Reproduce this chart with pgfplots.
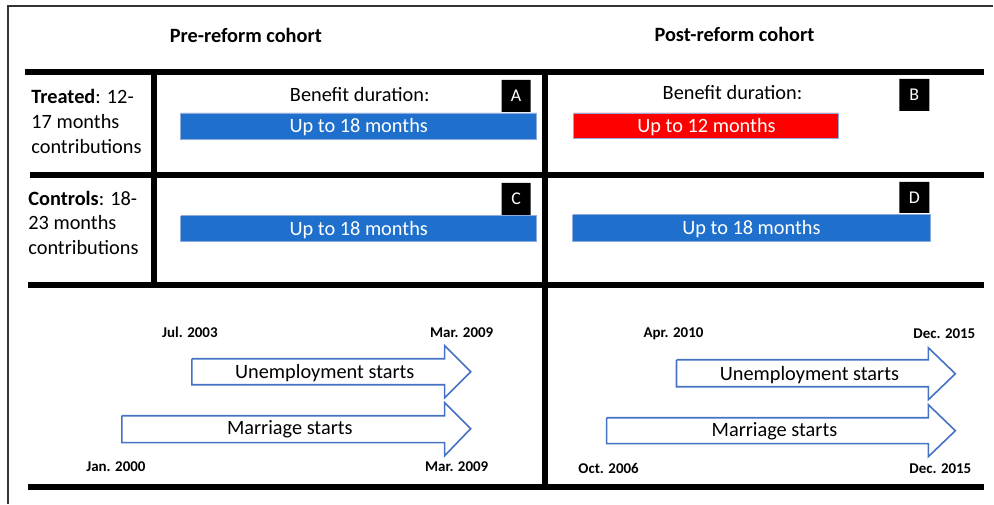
\documentclass[border=0pt]{standalone}
\usepackage{pgfplots}
\pgfplotsset{compat=1.18}
\usepackage{fontspec}
\setmainfont{Carlito}

\definecolor{barblue}{RGB}{30,112,204}
\definecolor{barred}{RGB}{255,0,0}
\definecolor{arrowblue}{RGB}{68,114,196}

\newcommand{\fs}[1]{\fontsize{#1}{#1}\selectfont}

\begin{document}
\begin{tikzpicture}
\begin{axis}[
    scale only axis,
    width=497bp, height=252bp,
    xmin=0, xmax=994, ymin=0, ymax=504,
    y dir=reverse,
    hide axis,
    clip=false,
    thickline/.style={black, line width=3bp, line cap=rect},
    bar/.style={fill=#1, draw=arrowblue!60, line width=0.4bp},
    tag/.style={fill=black, draw=none},
    arrow/.style={fill=white, draw=arrowblue, line width=0.8bp},
]
% canvas and outer frame (top and left edges only)
\addplot[draw=none] coordinates {(0,0) (994,504)};
\addplot[black!80, line width=0.7bp] coordinates {(8,504) (8,6) (994,6)};

% grid lines
\addplot[thickline] coordinates {(28,72) (982,72)};
\addplot[thickline] coordinates {(33,175) (982,175)};
\addplot[thickline] coordinates {(31,285) (982,285)};
\addplot[thickline] coordinates {(31,487) (982,487)};
\addplot[thickline, line cap=butt] coordinates {(154,72) (154,285)};
\addplot[thickline, line cap=butt] coordinates {(545,72) (545,487)};

% benefit bars
\addplot[bar=barblue] coordinates {(181,113) (537,113) (537,139) (181,139) (181,113)};
\addplot[bar=barred] coordinates {(574,113) (839,113) (839,138) (574,138) (574,113)};
\addplot[bar=barblue] coordinates {(181,216) (537,216) (537,242) (181,242) (181,216)};
\addplot[bar=barblue] coordinates {(573,215) (931,215) (931,242) (573,242) (573,215)};

% panel tags
\addplot[tag] coordinates {(502,80) (531,80) (531,112) (502,112) (502,80)};
\addplot[tag] coordinates {(900,79) (930,79) (930,111) (900,111) (900,79)};
\addplot[tag] coordinates {(502,183) (531,183) (531,215) (502,215) (502,183)};
\addplot[tag] coordinates {(900,182) (930,182) (930,213) (900,213) (900,182)};

% timeline arrows
\addplot[arrow] coordinates {(192,359) (445,359) (445,346) (471,372) (445,398) (445,385) (192,385) (192,359)};
\addplot[arrow] coordinates {(122,416) (445,416) (445,403) (471,429) (445,456) (445,443) (122,443) (122,416)};
\addplot[arrow] coordinates {(677,360) (929,360) (929,348) (956,374) (929,400) (929,387) (677,387) (677,360)};
\addplot[arrow] coordinates {(607,418) (929,418) (929,405) (956,431) (929,457) (929,444) (607,444) (607,418)};

% headings
\node[font=\fs{10.2}\bfseries] at (axis cs:246,35) {Pre-reform cohort};
\node[font=\fs{10.2}\bfseries] at (axis cs:735,34) {Post-reform cohort};

% row labels
\node[font=\fs{10.2}, anchor=west, inner sep=0] at (axis cs:31,97) {\textbf{Treated}: 12-};
\node[font=\fs{10.2}, anchor=west, inner sep=0] at (axis cs:31,122) {17 months};
\node[font=\fs{10.2}, anchor=west, inner sep=0] at (axis cs:31,147) {contributions};
\node[font=\fs{10.2}, anchor=west, inner sep=0] at (axis cs:28,199) {\textbf{Controls}: 18-};
\node[font=\fs{10.2}, anchor=west, inner sep=0] at (axis cs:28,223) {23 months};
\node[font=\fs{10.2}, anchor=west, inner sep=0] at (axis cs:28,248) {contributions};

% bar texts
\node[font=\fs{10.2}] at (axis cs:360,95) {Benefit duration:};
\node[font=\fs{10.2}] at (axis cs:733,93) {Benefit duration:};
\node[font=\fs{10.2}, text=white] at (axis cs:359,127) {Up to 18 months};
\node[font=\fs{10.2}, text=white] at (axis cs:707,127) {Up to 12 months};
\node[font=\fs{10.2}, text=white] at (axis cs:359,230) {Up to 18 months};
\node[font=\fs{10.2}, text=white] at (axis cs:752,229) {Up to 18 months};

% tags
\node[font=\fs{9}, text=white] at (axis cs:516.5,96) {A};
\node[font=\fs{9}, text=white] at (axis cs:915,95) {B};
\node[font=\fs{9}, text=white] at (axis cs:516.5,199) {C};
\node[font=\fs{9}, text=white] at (axis cs:915,197.5) {D};

% arrow texts
\node[font=\fs{10.2}] at (axis cs:325,373) {Unemployment starts};
\node[font=\fs{10.2}] at (axis cs:290,430) {Marriage starts};
\node[font=\fs{10.2}] at (axis cs:810,375) {Unemployment starts};
\node[font=\fs{10.2}] at (axis cs:775,432) {Marriage starts};

% dates
\node[font=\fs{7.5}\bfseries] at (axis cs:190,333) {Jul. 2003};
\node[font=\fs{7.5}\bfseries] at (axis cs:462,333) {Mar. 2009};
\node[font=\fs{7.5}\bfseries] at (axis cs:116,467) {Jan. 2000};
\node[font=\fs{7.5}\bfseries] at (axis cs:457,467) {Mar. 2009};
\node[font=\fs{7.5}\bfseries] at (axis cs:674,334) {Apr. 2010};
\node[font=\fs{7.5}\bfseries] at (axis cs:945,334) {Dec. 2015};
\node[font=\fs{7.5}\bfseries] at (axis cs:609,469) {Oct. 2006};
\node[font=\fs{7.5}\bfseries] at (axis cs:941,469) {Dec. 2015};
\end{axis}
\end{tikzpicture}
\end{document}
